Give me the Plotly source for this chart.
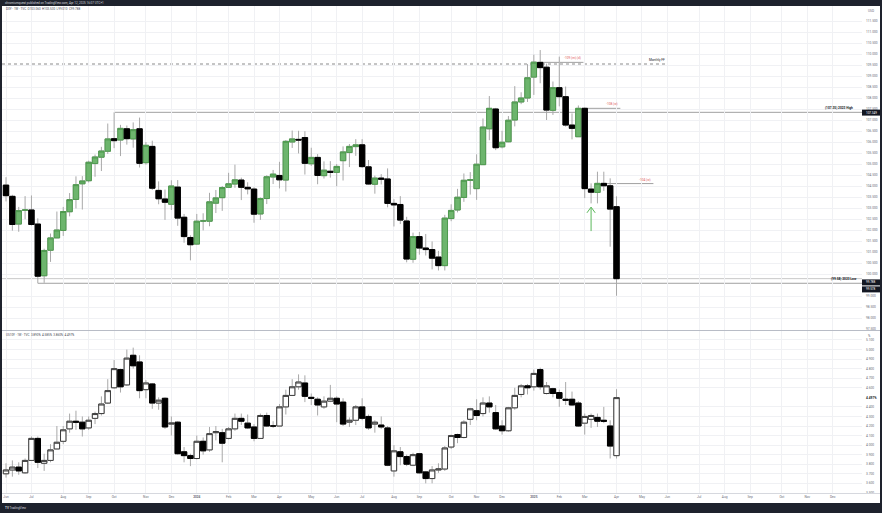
import numpy as np
import pandas as pd
import plotly.graph_objects as go

# ---------------- data ----------------
weeks = pd.date_range("2023-06-05", periods=97, freq="W-MON")

dxy_open = [104.04, 103.53, 102.27, 102.90, 102.91, 102.27, 99.92, 101.08, 101.64, 101.98,
            102.83, 103.39, 104.10, 104.24, 105.02, 105.31, 105.58, 106.15, 106.09, 106.60,
            106.14, 106.60, 105.06, 105.80, 103.80, 103.41, 103.17, 103.95, 102.58, 101.66,
            101.36, 102.41, 102.40, 103.22, 103.47, 103.94, 104.09, 104.27, 103.94, 103.86,
            102.73, 103.43, 104.41, 104.48, 104.27, 106.00, 106.12, 106.20, 105.01, 105.30,
            104.47, 104.67, 104.62, 105.15, 105.52, 105.79, 105.87, 104.87, 104.08, 104.36,
            104.32, 103.21, 103.16, 102.41, 100.67, 101.70, 101.18, 101.11, 100.77, 100.38,
            102.52, 102.91, 103.48, 104.26, 103.88, 104.97, 106.60, 107.50, 105.78, 106.01,
            107.00, 107.82, 108.00, 108.95, 109.62, 109.40, 107.44, 108.47, 108.06, 106.77,
            106.24, 107.53, 103.86, 103.71, 104.12, 104.01, 103.06]
dxy_high = [104.40, 103.60, 103.05, 103.54, 103.57, 102.53, 101.15, 101.84, 102.84, 103.05,
            103.68, 104.44, 104.45, 105.15, 105.43, 105.78, 106.84, 107.35, 106.78, 106.75,
            106.89, 107.11, 106.00, 106.06, 104.21, 103.84, 104.26, 104.27, 102.73, 101.76,
            102.73, 102.76, 103.69, 103.82, 104.00, 104.60, 104.97, 104.38, 104.17, 103.94,
            103.48, 104.49, 104.73, 105.10, 106.09, 106.52, 106.51, 106.49, 105.74, 105.45,
            105.12, 105.13, 105.00, 105.80, 105.91, 106.13, 106.13, 105.18, 104.47, 104.54,
            104.80, 103.40, 103.54, 102.60, 101.88, 101.91, 101.82, 101.48, 101.05, 102.69,
            103.17, 103.87, 104.57, 104.63, 105.44, 107.07, 108.09, 107.55, 106.51, 107.18,
            108.54, 108.26, 109.54, 109.97, 110.18, 109.56, 108.75, 109.88, 108.52, 107.30,
            107.66, 107.58, 104.12, 104.65, 104.65, 104.35, 103.53]
dxy_low = [103.30, 101.97, 101.92, 102.49, 102.20, 99.58, 99.60, 100.55, 101.73, 101.73,
           102.62, 102.98, 102.93, 104.16, 104.42, 104.68, 105.46, 105.72, 105.36, 105.88,
           105.74, 104.84, 104.97, 103.82, 103.17, 102.46, 102.91, 102.19, 101.42, 100.62,
           101.33, 101.98, 102.17, 102.77, 102.87, 103.93, 103.92, 103.36, 103.62, 102.33,
           102.46, 103.18, 104.09, 103.89, 103.75, 105.73, 105.48, 104.52, 104.91, 104.08,
           104.34, 104.38, 103.99, 104.25, 104.86, 105.37, 104.82, 104.06, 103.65, 104.07,
           103.03, 102.16, 102.27, 100.53, 100.51, 100.88, 100.84, 100.21, 100.16, 100.16,
           102.40, 102.80, 103.28, 103.61, 103.37, 104.97, 106.08, 105.63, 105.71, 105.99,
           106.71, 107.72, 107.82, 108.14, 108.67, 107.00, 107.23, 107.62, 106.70, 106.12,
           106.24, 103.45, 103.21, 103.21, 103.78, 101.24, 99.01]
dxy_close = [103.56, 102.25, 102.88, 102.91, 102.25, 99.90, 101.07, 101.64, 102.00, 102.84,
             103.38, 104.06, 104.23, 105.08, 105.32, 105.59, 106.14, 106.06, 106.62, 106.15,
             106.56, 105.03, 105.85, 103.90, 103.42, 103.26, 104.00, 102.54, 101.70, 101.33,
             102.40, 102.41, 103.28, 103.46, 103.93, 104.10, 104.28, 103.94, 103.87, 102.72,
             103.43, 104.42, 104.54, 104.28, 106.03, 106.14, 106.09, 105.03, 105.30, 104.48,
             104.72, 104.62, 104.89, 105.55, 105.80, 105.87, 104.88, 104.09, 104.36, 104.31,
             103.21, 103.14, 102.45, 100.68, 101.70, 101.18, 101.11, 100.72, 100.38, 102.54,
             102.89, 103.49, 104.26, 104.28, 104.99, 106.68, 107.53, 105.74, 105.99, 106.99,
             107.82, 108.00, 108.92, 109.63, 109.38, 107.45, 108.47, 108.06, 106.77, 106.62,
             107.53, 103.88, 103.72, 104.12, 104.01, 102.95, 99.788]

tnx_open = [3.70, 3.74, 3.77, 3.71, 3.84, 4.07, 3.81, 3.84, 3.96, 4.04,
            4.17, 4.25, 4.24, 4.18, 4.28, 4.33, 4.44, 4.60, 4.79, 4.63,
            4.94, 4.87, 4.58, 4.64, 4.44, 4.49, 4.22, 4.24, 3.93, 3.89,
            3.86, 4.04, 3.95, 4.13, 4.13, 4.07, 4.17, 4.28, 4.23, 4.19,
            4.07, 4.31, 4.20, 4.20, 4.40, 4.52, 4.61, 4.65, 4.50, 4.48,
            4.40, 4.46, 4.49, 4.45, 4.24, 4.26, 4.40, 4.30, 4.22, 4.21,
            4.18, 3.73, 3.93, 3.88, 3.79, 3.91, 3.72, 3.65, 3.74, 3.75,
            3.98, 4.11, 4.08, 4.27, 4.36, 4.33, 4.44, 4.34, 4.20, 4.15,
            4.39, 4.53, 4.62, 4.61, 4.79, 4.54, 4.59, 4.55, 4.48, 4.48,
            4.44, 4.23, 4.27, 4.29, 4.26, 4.20, 3.89]
tnx_high = [3.81, 3.84, 3.82, 3.86, 4.09, 4.09, 3.91, 4.01, 4.20, 4.20,
            4.33, 4.36, 4.30, 4.30, 4.35, 4.51, 4.69, 4.89, 4.80, 5.00,
            5.02, 4.94, 4.68, 4.65, 4.50, 4.50, 4.30, 4.25, 3.98, 3.91,
            4.10, 4.08, 4.19, 4.20, 4.17, 4.19, 4.33, 4.33, 4.32, 4.22,
            4.33, 4.34, 4.25, 4.43, 4.58, 4.69, 4.74, 4.73, 4.54, 4.50,
            4.51, 4.63, 4.51, 4.49, 4.29, 4.42, 4.49, 4.32, 4.26, 4.30,
            4.20, 4.00, 3.98, 3.90, 3.92, 3.91, 3.73, 3.78, 3.81, 3.99,
            4.11, 4.12, 4.26, 4.39, 4.48, 4.50, 4.51, 4.42, 4.26, 4.40,
            4.60, 4.64, 4.64, 4.79, 4.81, 4.66, 4.60, 4.58, 4.66, 4.56,
            4.46, 4.33, 4.33, 4.33, 4.40, 4.26, 4.585]
tnx_low = [3.66, 3.67, 3.69, 3.70, 3.84, 3.76, 3.73, 3.82, 3.96, 4.01,
           4.13, 4.16, 4.09, 4.16, 4.22, 4.31, 4.43, 4.59, 4.55, 4.62,
           4.80, 4.49, 4.49, 4.38, 4.37, 4.17, 4.10, 3.90, 3.82, 3.78,
           3.85, 3.90, 3.93, 4.05, 3.82, 4.06, 4.15, 4.21, 4.17, 4.04,
           4.07, 4.19, 4.18, 4.20, 4.32, 4.52, 4.58, 4.45, 4.42, 4.31,
           4.38, 4.45, 4.24, 4.20, 4.19, 4.21, 4.26, 4.16, 4.13, 4.17,
           3.78, 3.67, 3.79, 3.78, 3.78, 3.70, 3.60, 3.60, 3.71, 3.73,
           3.96, 4.02, 4.07, 4.21, 4.26, 4.30, 4.34, 4.16, 4.11, 4.14,
           4.37, 4.50, 4.53, 4.57, 4.58, 4.53, 4.50, 4.40, 4.42, 4.41,
           4.19, 4.11, 4.18, 4.19, 4.23, 3.86, 3.86]
tnx_close = [3.74, 3.77, 3.73, 3.84, 4.07, 3.82, 3.84, 3.95, 4.03, 4.16,
             4.25, 4.24, 4.17, 4.26, 4.33, 4.43, 4.57, 4.80, 4.61, 4.91,
             4.83, 4.57, 4.65, 4.44, 4.47, 4.19, 4.23, 3.91, 3.89, 3.86,
             4.04, 3.94, 4.12, 4.14, 4.02, 4.17, 4.28, 4.25, 4.18, 4.07,
             4.31, 4.20, 4.20, 4.40, 4.52, 4.61, 4.66, 4.51, 4.49, 4.42,
             4.46, 4.49, 4.43, 4.22, 4.26, 4.40, 4.28, 4.18, 4.24, 4.19,
             3.79, 3.94, 3.88, 3.80, 3.90, 3.71, 3.65, 3.74, 3.75, 3.97,
             4.10, 4.08, 4.24, 4.38, 4.31, 4.44, 4.40, 4.17, 4.15, 4.39,
             4.52, 4.62, 4.60, 4.75, 4.61, 4.62, 4.54, 4.49, 4.47, 4.42,
             4.20, 4.30, 4.31, 4.25, 4.25, 3.99, 4.497]

dxy_price_ticks = [97.5, 98.0, 98.5, 99.0] + [100.0 + 0.5 * i for i in range(24)]
tnx_price_ticks = [3.5, 3.6, 3.7, 3.8, 3.9, 4.0, 4.1, 4.2, 4.3, 4.4, 4.6, 4.7, 4.8, 4.9, 5.0, 5.1]

month_names = ["Jan", "Feb", "Mar", "Apr", "May", "Jun", "Jul", "Aug", "Sep", "Oct", "Nov", "Dec"]

# levels drawn on the DXY pane
high_2023 = 107.349
low_2023 = 99.578
monthly_ff = 109.545
lvl_109 = 109.62
lvl_108 = 107.53
lvl_104 = 104.11

# ---------------- helpers ----------------
x = list(range(len(weeks)))
all_weeks = pd.date_range("2023-06-05", periods=136, freq="W-MON")
tick_idx, tick_txt = [], []
for i, d in enumerate(all_weeks):
    if i == 0 or d.month != all_weeks[i - 1].month:
        tick_idx.append(i)
        tick_txt.append("<b>%d</b>" % d.year if d.month == 1 else month_names[d.month - 1])

W, H = 882, 513
L, R, T, B = 2, 20, 6, 20
PW, PH = W - L - R, H - T - B


def pxx(xp):
    return (xp - L) / PW


def pyy(yp):
    return (H - B - yp) / PH


XMIN, XMAX = -0.63, 134.6
TOP_DOM = [pyy(330), 1.0]
BOT_DOM = [0.0, pyy(331)]
TOP_RNG = [100 - (330 - 274) / 22.0, 100 + (274 - 6) / 22.0]
BOT_RNG = [3.499, 5.1 + (340 - 331) / 95.8]

fig = go.Figure()


def add_candles(o, h, l, c, xa, ya, inc_fill, inc_line, dec_fill, dec_line, wick):
    o = np.array(o); c = np.array(c)
    fig.add_trace(go.Candlestick(
        x=x, open=o, high=h, low=l, close=c, xaxis=xa, yaxis=ya,
        increasing=dict(fillcolor=inc_fill, line=dict(color=wick, width=1)),
        decreasing=dict(fillcolor=dec_fill, line=dict(color=wick, width=1)),
        whiskerwidth=0, showlegend=False, hoverinfo="skip"))
    fig.add_trace(go.Candlestick(
        x=x, open=o, high=np.maximum(o, c), low=np.minimum(o, c), close=c, xaxis=xa, yaxis=ya,
        increasing=dict(fillcolor=inc_fill, line=dict(color=inc_line, width=1)),
        decreasing=dict(fillcolor=dec_fill, line=dict(color=dec_line, width=1)),
        whiskerwidth=0, showlegend=False, hoverinfo="skip"))


add_candles(dxy_open, dxy_high, dxy_low, dxy_close, "x", "y",
            "#6db56d", "#4f9a4f", "#000000", "#000000", "#a8a8a8")
add_candles(tnx_open, tnx_high, tnx_low, tnx_close, "x2", "y2",
            "#ffffff", "#3a3a3a", "#000000", "#000000", "#a8a8a8")

FONT = "Roboto"
tick_font = dict(family=FONT, size=3.2, color="#6a6d78")
grid = "#f0f1f4"

shapes = []
ann = []


def hline(y, x0, x1, color, dash="solid", xref="x"):
    shapes.append(dict(type="line", xref=xref, yref="y", x0=x0, x1=x1, y0=y, y1=y,
                       line=dict(color=color, width=1, dash=dash), layer="below"))


hline(dxy_close[-1], XMIN, XMAX, "#c8c8c8")
hline(high_2023, 17, XMAX, "#a0a0a0")
hline(low_2023, 5, XMAX, "#a0a0a0")
hline(monthly_ff, XMIN, 103.9, "#8a8a8a", dash="dot")
hline(lvl_109, 84, 90.8, "#a0a0a0")
hline(lvl_108, 90.5, 96.6, "#a0a0a0")
hline(lvl_104, 94, 101.8, "#a0a0a0")

small = dict(family=FONT, size=3.2, color="#131722")
red = dict(family=FONT, size=3.2, color="#e05a5a")
ann.append(dict(xref="x", yref="y", x=103.9, y=monthly_ff, text="Monthly FF", showarrow=False,
                xanchor="right", yanchor="bottom", font=small))
ann.append(dict(xref="x", yref="y", x=90.8, y=lvl_109, text="-109 (m) (d)", showarrow=False,
                xanchor="right", yanchor="bottom", font=red))
ann.append(dict(xref="x", yref="y", x=96.6, y=lvl_108, text="-108 (w)", showarrow=False,
                xanchor="right", yanchor="bottom", font=red))
ann.append(dict(xref="x", yref="y", x=101.8, y=lvl_104, text="-104 (w)", showarrow=False,
                xanchor="right", yanchor="bottom", font=red))
ann.append(dict(xref="paper", yref="y", x=pxx(855), y=high_2023, text="<b>(107.35) 2023 High</b>",
                showarrow=False, xanchor="right", yanchor="bottom", font=small))
ann.append(dict(xref="paper", yref="y", x=pxx(859), y=low_2023, text="<b>(99.58) 2023 Low</b>",
                showarrow=False, xanchor="right", yanchor="bottom", font=small))

# green arrow
shapes.append(dict(type="line", xref="x", yref="y", x0=92, x1=92, y0=101.95, y1=103.02,
                   line=dict(color="#5cb85c", width=1)))
shapes.append(dict(type="path", xref="x", yref="y", path="M 91.35,102.78 L 92,103.04 L 92.65,102.78",
                   line=dict(color="#5cb85c", width=1)))


def tag(yc, text):
    shapes.append(dict(type="rect", xref="paper", yref="paper", x0=pxx(862), x1=pxx(880),
                       y0=pyy(yc + 3.0), y1=pyy(yc - 3.0), fillcolor="#131722", line=dict(width=0)))
    ann.append(dict(xref="paper", yref="paper", x=pxx(864), y=pyy(yc), text=text, showarrow=False,
                    xanchor="left", yanchor="middle", font=dict(family=FONT, size=3.0, color="#ffffff")))


tag(112.6, "107.349")
tag(282.4, "%.3f" % dxy_close[-1])
tag(289.4, "%.3f" % low_2023)
ann.append(dict(xref="paper", yref="paper", x=pxx(863.5), y=pyy(398), text="<b>%.3f%%</b>" % tnx_close[-1],
                showarrow=False, xanchor="left", yanchor="middle", font=dict(family=FONT, size=3.2, color="#131722")))
ann.append(dict(xref="paper", yref="paper", x=pxx(866), y=pyy(10.7), text="USD", showarrow=False,
                xanchor="left", yanchor="middle", font=tick_font))
ann.append(dict(xref="paper", yref="paper", x=pxx(866), y=pyy(336), text="%", showarrow=False,
                xanchor="left", yanchor="middle", font=tick_font))

# legends
ann.append(dict(xref="paper", yref="paper", x=pxx(4), y=pyy(9.3),
                text="DXY · 1W · TVC  O%.3f  H%.3f  L%.3f  C%.3f" % (dxy_open[-1], dxy_high[-1], dxy_low[-1], dxy_close[-1]),
                showarrow=False, xanchor="left", yanchor="middle", font=dict(family=FONT, size=3, color="#434651")))
ann.append(dict(xref="paper", yref="paper", x=pxx(4), y=pyy(335.3),
                text="US10Y · 1W · TVC  %.3f%%  %.3f%%  %.3f%%  %.3f%%" % (tnx_open[-1], tnx_high[-1], tnx_low[-1], tnx_close[-1]),
                showarrow=False, xanchor="left", yanchor="middle", font=dict(family=FONT, size=3, color="#434651")))

# frame: dark bars and borders
dark = "#1e222d"
shapes += [
    dict(type="rect", xref="paper", yref="paper", x0=pxx(0), x1=pxx(W), y0=pyy(6), y1=pyy(0),
         fillcolor=dark, line=dict(width=0)),
    dict(type="rect", xref="paper", yref="paper", x0=pxx(0), x1=pxx(W), y0=pyy(H), y1=pyy(503),
         fillcolor=dark, line=dict(width=0)),
    dict(type="rect", xref="paper", yref="paper", x0=pxx(0), x1=pxx(2), y0=pyy(H), y1=pyy(0),
         fillcolor=dark, line=dict(width=0)),
    dict(type="rect", xref="paper", yref="paper", x0=pxx(880), x1=pxx(W), y0=pyy(H), y1=pyy(0),
         fillcolor=dark, line=dict(width=0)),
    dict(type="line", xref="paper", yref="paper", x0=pxx(2), x1=pxx(880), y0=pyy(330.5), y1=pyy(330.5),
         line=dict(color="#b8bcc6", width=1)),
    dict(type="line", xref="paper", yref="paper", x0=pxx(2), x1=pxx(880), y0=pyy(493.5), y1=pyy(493.5),
         line=dict(color="#d6d8de", width=1)),
]
ann.append(dict(xref="paper", yref="paper", x=pxx(3), y=pyy(3), showarrow=False, xanchor="left", yanchor="middle",
                text="chromiumquest published on TradingView.com, Apr 12, 2025 16:07 UTC+1",
                font=dict(family=FONT, size=3, color="#d1d4dc")))
ann.append(dict(xref="paper", yref="paper", x=pxx(3), y=pyy(508), showarrow=False, xanchor="left", yanchor="middle",
                text="<b>TV</b> TradingView", font=dict(family=FONT, size=3, color="#d1d4dc")))

xcommon = dict(range=[XMIN, XMAX], tickvals=tick_idx, ticktext=tick_txt, showgrid=True, gridcolor=grid,
               gridwidth=1, zeroline=False, showline=False, ticks="", fixedrange=True,
               rangeslider=dict(visible=False))

fig.update_layout(
    width=W, height=H, margin=dict(l=L, r=R, t=T, b=B),
    paper_bgcolor="#ffffff", plot_bgcolor="#ffffff",
    boxgap=0.15, boxgroupgap=0, boxmode="overlay",
    xaxis=dict(**xcommon, domain=[0, 1], anchor="y", showticklabels=False),
    xaxis2=dict(**xcommon, domain=[0, 1], anchor="y2", matches="x", showticklabels=True,
                tickfont=tick_font, ticklabelstandoff=1),
    yaxis=dict(domain=TOP_DOM, range=TOP_RNG, side="right", anchor="x", tickvals=dxy_price_ticks,
               tickformat=".3f", tickfont=tick_font, showgrid=True, gridcolor=grid, zeroline=False,
               ticks="", ticklabelstandoff=3, fixedrange=True),
    yaxis2=dict(domain=BOT_DOM, range=BOT_RNG, side="right", anchor="x2", tickvals=tnx_price_ticks,
                tickformat=".3f", ticksuffix="%", tickfont=tick_font, showgrid=True, gridcolor=grid,
                zeroline=False, ticks="", ticklabelstandoff=3, fixedrange=True),
    shapes=shapes, annotations=ann, showlegend=False, hovermode=False,
)

fig.write_html("out.html", config={"displayModeBar": False},
               post_script="document.body.style.margin='0';document.body.style.overflow='hidden';")
